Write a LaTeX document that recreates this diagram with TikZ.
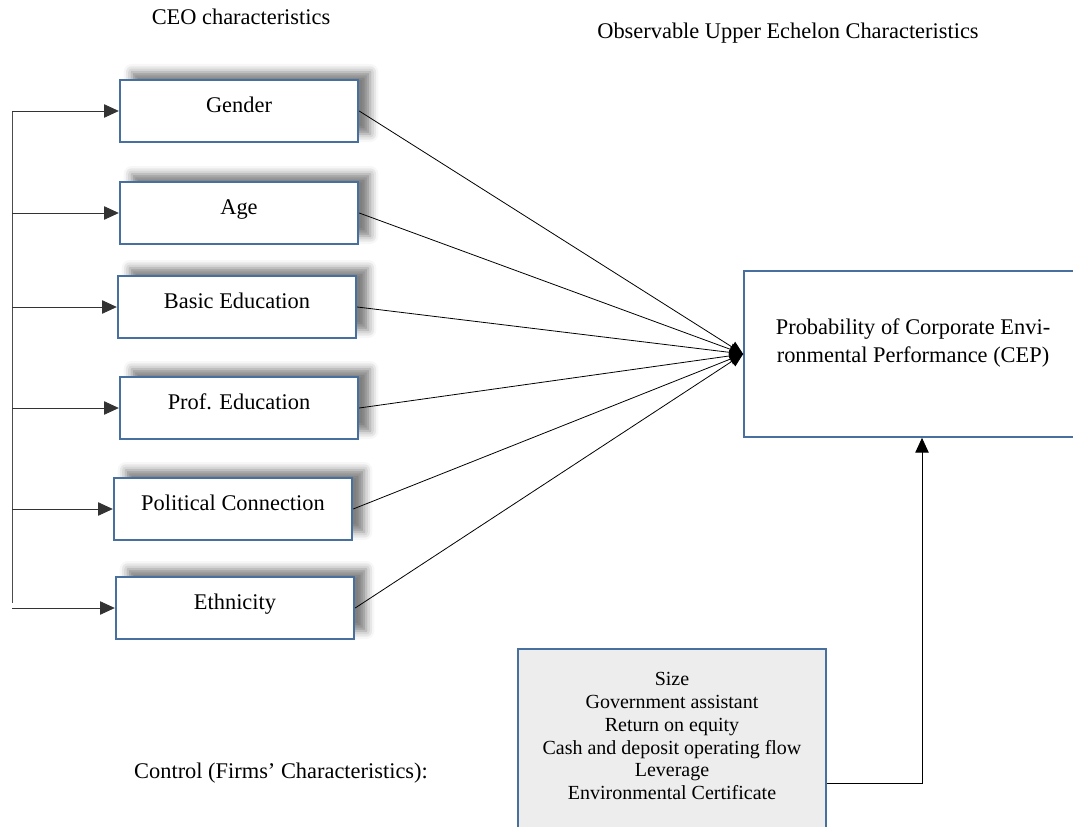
\documentclass[tikz,border=0pt]{standalone}
\usepackage{fontspec}
\setmainfont{Liberation Serif}
\usetikzlibrary{arrows.meta,shadows.blur}

\begin{document}
\begin{tikzpicture}[->,>={Triangle[length=11pt,width=10pt]},x=0.75pt,y=-0.75pt,
                    semithick,font=\fontsize{16.8}{21}\selectfont]
  \tikzstyle{trait}=[rectangle,draw={rgb,255:red,72;green,112;blue,158},line width=1.3pt,
                     fill=white,minimum width=179pt,minimum height=46.5pt,
                     text height=8pt,text depth=6pt,
                     blur shadow={shadow xshift=9pt,shadow yshift=6pt,
                                  shadow blur radius=6pt,shadow opacity=50}]
  \tikzstyle{outcome}=[rectangle,draw={rgb,255:red,72;green,112;blue,158},line width=1.3pt,
                       fill=white,minimum width=253.5pt,minimum height=124.5pt,
                       align=center,text depth=20pt]
  \tikzstyle{control}=[rectangle,draw={rgb,255:red,72;green,112;blue,158},line width=1.3pt,
                       fill={rgb,255:red,237;green,237;blue,237},minimum width=231pt,
                       minimum height=139.5pt,align=center,text depth=9pt,
                       font=\fontsize{15}{17.1}\selectfont]
  \tikzstyle{feed}=[-{Triangle[length=10pt,width=9pt]},black]

  \path[clip] (0,0) rectangle (1073,827);

  \node[anchor=base] (ceo)  at (241,25)  {CEO characteristics};
  \node[anchor=base] (ueh)  at (788,39)  {Observable Upper Echelon Characteristics};
  \node[anchor=base] (ctl)  at (281,778) {Control (Firms’ Characteristics):};

  \node[trait] (gen) at (239,111) {Gender};
  \node[trait] (age) at (239,213) {Age};
  \node[trait] (bed) at (237,307) {Basic Education};
  \node[trait] (ped) at (239,408) {Prof. Education};
  \node[trait] (pol) at (233,509) {Political Connection};
  \node[trait] (eth) at (235,608) {Ethnicity};

  \node[outcome] (cep) at (913,354)
    {Probability of Corporate Envi-\\ronmental Performance (CEP)};
  \node[control] (firm) at (672,742)
    {Size\\Government assistant\\Return on equity\\Cash and deposit operating flow\\Leverage\\Environmental Certificate};

  % bracket on the left
  \coordinate (bar) at (12,111);
  \coordinate (barend) at (12,603);
  \draw[-,black!70] (bar) -- (barend);
  \foreach \n in {gen,age,bed,ped,pol,eth}
    \draw[black!80] (bar |- \n.west) -- (\n.west);

  \path[feed]
(gen.east) edge (cep.west)
(age.east) edge (cep.west)
(bed.east) edge (cep.west)
(ped.east) edge (cep.west)
(pol.east) edge (cep.west)
(eth.east) edge (cep.west)
;

  \coordinate (turn) at (922,783);
  \draw (firm.east |- turn) -- (turn) -- (turn |- cep.south);

\end{tikzpicture}
\end{document}
